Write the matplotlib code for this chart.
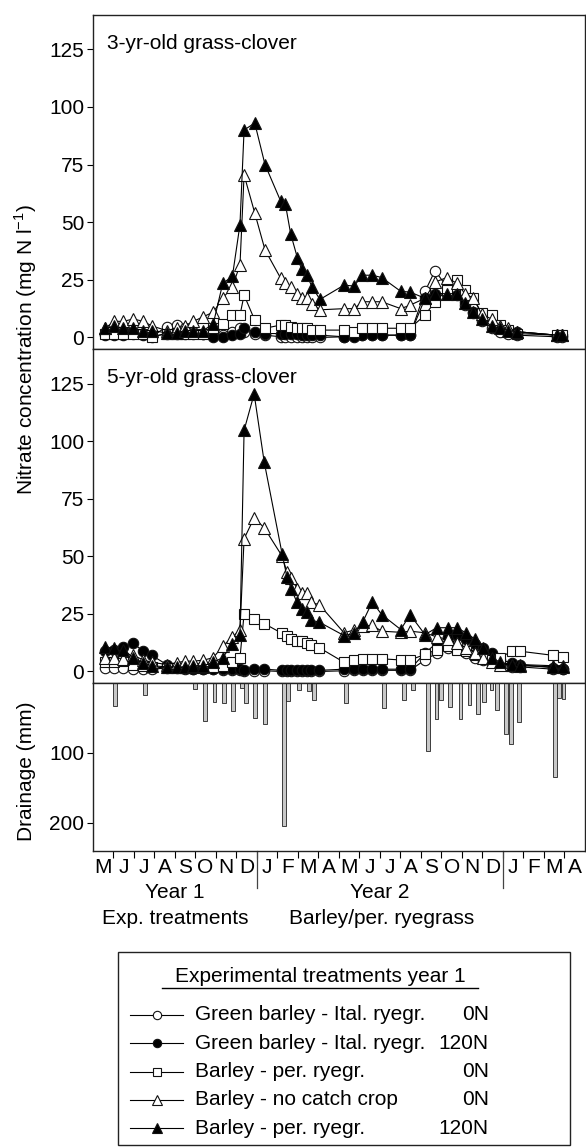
import numpy as np
import matplotlib.pyplot as plt
from matplotlib.lines import Line2D
from matplotlib.patches import Rectangle

plt.rcParams['font.family'] = ['Liberation Sans', 'DejaVu Sans']
plt.rcParams['mathtext.fontset'] = 'custom'
plt.rcParams['mathtext.rm'] = 'Liberation Sans'
plt.rcParams['font.size'] = 15

# time axis: months since 1 May of year 1
d3 = [0.60, 1.05, 1.49, 1.98, 2.47, 2.88, 3.61, 4.09, 4.50, 4.91, 5.39, 5.88,
      6.34, 6.81, 7.18, 7.38, 7.90, 8.40, 9.17, 9.39, 9.65, 9.98, 10.19, 10.43,
      10.71, 11.08, 12.25, 12.74, 13.15, 13.63, 14.09, 15.02, 15.47, 16.20, 16.69,
      17.26, 17.75, 18.15, 18.56, 18.97, 19.45, 19.86, 20.27, 20.67, 22.62, 22.87]

circ_o_3 = [1.7, 2.5, 2.5, 2.5, 1.7, 0.5, 4.6, 5.4, 4, 2.5, 1.7, 1, 1, 2.5, 4, 2.5,
            1.7, 1, 0.3, 0, 0, 0, 0, 0, 0, 0, 0.3, 1, 1, 1, 1, 1, 1, 20, 29, 22,
            20.5, 14, 10.4, 7, 4, 2.5, 1.7, 1, 0.3, 0.3]
circ_f_3 = [1, 1, 1, 1.7, 1, 0.3, 1.7, 1.7, 1.7, 1.7, 1.7, 0.3, 0.3, 1, 1.7, 4, 2.5,
            1.7, 1.7, 1.7, 1.7, 1.7, 1, 1, 1, 1, 0.3, 0.3, 1, 1, 1, 1, 1, 17, 19, 19,
            18.4, 15.5, 11, 9, 7, 4.6, 3.2, 2.5, 1, 1]
sq_3 = [1.7, 1.7, 1.7, 1.7, 1.7, 0.3, 1.7, 1.7, 1.7, 1.7, 1.7, 4, 6, 9.7, 9.7, 18.4,
        7.5, 4, 5.4, 5.4, 4.6, 4, 4, 4, 3.2, 3.2, 3.2, 2.5, 4, 4, 4, 4, 4, 9.7, 15.5,
        20.5, 25, 20.5, 17, 10.4, 9.7, 5.4, 3.2, 1.7, 1, 1]
tri_o_3 = [4, 7, 7, 8, 7, 5, 3, 4, 5, 7, 9, 11, 17, 22, 31.5, 70.5, 54, 38, 25.6,
           23.7, 22, 19, 17, 17, 14.5, 12, 12.5, 12.5, 15.5, 15.5, 15.5, 12.5, 14, 17,
           24, 26, 23.5, 19, 17, 10, 8, 5, 4, 2.5, 1, 1]
tri_f_3 = [4, 5, 4, 4, 3, 3, 2, 2, 3, 3, 3, 6, 23.5, 26.5, 49, 90, 93, 75, 59, 58, 45,
           34.5, 29.5, 27, 21.7, 16.5, 22.7, 22.3, 27, 27, 26, 20, 19.7, 17, 19, 19,
           19, 15, 11, 8, 5, 4, 3, 2.5, 1, 1]

d5 = [0.60, 1.05, 1.49, 1.98, 2.47, 2.88, 3.61, 4.09, 4.50, 4.91, 5.39, 5.88,
      6.34, 6.81, 7.18, 7.38, 7.87, 8.36, 9.24, 9.47, 9.69, 9.95, 10.18, 10.43,
      10.63, 11.05, 12.25, 12.74, 13.16, 13.63, 14.09, 15.02, 15.47, 16.20, 16.77,
      17.34, 17.75, 18.20, 18.64, 19.05, 19.45, 19.86, 20.43, 20.83, 22.45, 22.94]

circ_o_5 = [1.5, 1.5, 1.5, 1, 1, 1, 1.5, 1.5, 1, 1, 1, 1, 0.5, 0.5, 0.5, 0.3, 0.3,
            0.3, 0, 0, 0, 0, 0, 0, 0, 0, 0.3, 0.5, 0.5, 0.5, 0.5, 0.5, 0.5, 5, 8, 10,
            12, 8, 6, 5, 4, 3, 2, 2, 1, 1]
circ_f_5 = [9, 9.5, 10.5, 12.2, 8.8, 7, 3, 2, 1.5, 1, 1, 1, 1, 1, 1, 0.5, 1, 1, 0.5,
            0.5, 0.5, 0.5, 0.5, 0.5, 0.5, 0.5, 1, 1, 1, 1, 1, 1, 1, 8, 12.4, 15, 16,
            14, 12, 10, 8, 5, 3.8, 3, 1.6, 0.9]
sq_5 = [4, 4, 4.5, 3, 2.5, 2, 1.5, 1.5, 1.5, 1.5, 1.5, 2, 2.3, 4, 5.9, 25, 22.6, 20.8,
        16.5, 15.6, 14, 13.2, 13.2, 12.2, 11.5, 10.3, 4, 5, 5.5, 5.5, 5.5, 5, 5, 7.4,
        9.5, 11, 9.5, 9, 7, 6, 5, 6, 8.8, 8.8, 7, 6.4]
tri_o_5 = [6, 6, 5.5, 7, 5, 4, 3, 3.8, 4.5, 4.5, 4.9, 6, 11, 15, 18, 57.6, 66.7, 62.4,
           50, 43, 40.7, 36, 34, 34, 30, 29, 16.8, 18, 19.8, 20, 17.5, 17, 17.5, 16.8,
           15, 13.9, 12.4, 10.3, 8.1, 6, 4, 3, 3, 3, 2.5, 2.5]
tri_f_5 = [10.5, 10, 9.5, 6, 3.5, 2.5, 2, 2, 2, 2.5, 2.5, 4, 6, 12, 16, 104.7, 120.5,
           91, 50.8, 41, 35.6, 30.2, 27, 25.8, 22.3, 21.4, 15.6, 16.5, 21.4, 30.2,
           24.7, 18.2, 24.7, 16, 19, 19, 19, 16.8, 14, 10, 6, 4, 3, 2.5, 2, 2]

drain_m = [1.09, 2.53, 4.99, 5.46, 5.94, 6.41, 6.85, 7.27, 7.47, 7.92, 8.42, 9.31,
           9.53, 10.06, 10.55, 10.79, 12.37, 14.21, 15.16, 15.61, 16.34, 16.76,
           16.98, 17.43, 17.93, 18.37, 18.77, 19.08, 19.44, 19.71, 20.13, 20.40,
           20.80, 22.52, 22.72, 22.95]
drain_mm = [33, 17, 8, 54, 27, 29, 39.5, 7.6, 28, 50, 59, 204, 25, 10, 11, 24, 29,
            35, 24, 10, 97, 52, 24, 34.5, 51.5, 31.4, 44.5, 26.7, 10, 38.6, 73, 87,
            56, 134, 22, 23.5]

months = ['M', 'J', 'J', 'A', 'S', 'O', 'N', 'D',
          'J', 'F', 'M', 'A', 'M', 'J', 'J', 'A', 'S', 'O', 'N', 'D',
          'J', 'F', 'M', 'A']

treat_names = ['Green barley - Ital. ryegr.', 'Green barley - Ital. ryegr.',
               'Barley - per. ryegr.', 'Barley - no catch crop', 'Barley - per. ryegr.']
treat_n = ['0N', '120N', '0N', '0N', '120N']

styles = [dict(marker='o', mfc='white', ms=7.5),
          dict(marker='o', mfc='black', ms=7.5),
          dict(marker='s', mfc='white', ms=7.5),
          dict(marker='^', mfc='white', ms=8.5),
          dict(marker='^', mfc='black', ms=8.5)]

W, H = 586, 1147
fig = plt.figure(figsize=(W / 100, H / 100), dpi=100)


def box(x0, y0, x1, y1):
    return [x0 / W, 1 - y1 / H, (x1 - x0) / W, (y1 - y0) / H]


lg = fig.add_axes([0, 0, 1, 1])
lg.set_xlim(0, W)
lg.set_ylim(H, 0)
lg.axis('off')

ax3 = fig.add_axes(box(92.7, 14.7, 585, 349))
ax5 = fig.add_axes(box(92.7, 349, 585, 683))
axd = fig.add_axes(box(92.7, 683, 585, 851))

spine_c = '#222222'
for ax in (ax3, ax5, axd):
    for s in ax.spines.values():
        s.set_linewidth(1.0)
        s.set_color(spine_c)
    ax.set_xlim(0, 24)
    ax.tick_params(axis='y', direction='out', length=4, width=0.8, pad=2, labelsize=15)

panels = [(ax3, d3, [circ_o_3, circ_f_3, sq_3, tri_o_3, tri_f_3], '3-yr-old grass-clover'),
          (ax5, d5, [circ_o_5, circ_f_5, sq_5, tri_o_5, tri_f_5], '5-yr-old grass-clover')]
for ax, d, series, title in panels:
    for vals, st in zip(series, styles):
        ax.plot(d, vals, color='black', lw=0.8, mec='#111111', mew=0.8, **st)
    ax.set_ylim(-5, 140)
    ax.set_yticks([0, 25, 50, 75, 100, 125])
    ax.set_xticks([])
    ax.text(0.03, 0.915, title, transform=ax.transAxes, ha='left', va='center', fontsize=15)

axd.bar(drain_m, drain_mm, width=0.19, color='#c8c8c8', edgecolor='#222222', lw=0.6,
        align='center')
axd.set_ylim(240, 0)
axd.set_yticks([100, 200])
axd.set_xticks(np.arange(1, 24), minor=False)
axd.set_xticklabels([])
axd.tick_params(axis='x', which='major', direction='out', length=5, width=0.8)
axd.set_xticks(np.arange(24) + 0.5, minor=True)
axd.set_xticklabels(months, minor=True)
axd.tick_params(axis='x', which='minor', length=0, pad=5, labelsize=15)

xt = axd.get_xaxis_transform()
for xv in (8, 20):
    axd.add_line(Line2D([xv, xv], [0, -0.22], transform=xt, color='#444444', lw=0.9,
                        clip_on=False))
axd.text(4, -0.25, 'Year 1', transform=xt, ha='center', va='center', fontsize=15)
axd.text(14, -0.25, 'Year 2', transform=xt, ha='center', va='center', fontsize=15)
axd.text(4, -0.40, 'Exp. treatments', transform=xt, ha='center', va='center', fontsize=15)
axd.text(14.1, -0.40, 'Barley/per. ryegrass', transform=xt, ha='center', va='center',
         fontsize=15)

fig.text(26 / W, 1 - 350 / H, r'Nitrate concentration (mg N l$^{-1}$)', rotation=90,
         ha='center', va='center', fontsize=15)
fig.text(26 / W, 1 - 771 / H, 'Drainage (mm)', rotation=90, ha='center', va='center',
         fontsize=15)

# legend box
lg.add_patch(Rectangle((118, 952), 452, 193, fill=False, ec='#222222', lw=1.0))
lg.text(320, 977, 'Experimental treatments year 1', ha='center', va='center', fontsize=15)
lg.plot([162, 478], [988, 988], color='black', lw=1.0)
for i, (name, n, st) in enumerate(zip(treat_names, treat_n, styles)):
    y = 1015 + i * 28.3
    lg.plot([130, 183], [y, y], color='black', lw=0.8)
    st2 = dict(st)
    st2['ms'] = st['ms'] - 1.5
    lg.plot([157], [y], color='black', mec='#111111', mew=0.8, **st2)
    lg.text(195, y, name, ha='left', va='center', fontsize=15)
    lg.text(489, y, n, ha='right', va='center', fontsize=15)

fig.savefig('out.png', dpi=100)
